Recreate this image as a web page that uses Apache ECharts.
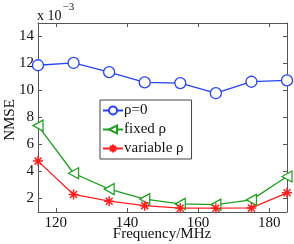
<!DOCTYPE html>
<html><head><meta charset="utf-8">
<script src="https://cdn.jsdelivr.net/npm/echarts@6/dist/echarts.min.js"></script>
<style>html,body{margin:0;padding:0;background:#fff}#c{width:294px;height:244px}</style>
</head><body><div id="c"></div>
<script>
var freqs = [115, 125, 135, 145, 155, 165, 175, 185];
var rhoZero = [11.87, 12.04, 11.36, 10.6, 10.55, 9.8, 10.65, 10.75];
var fixedRho = [7.4, 3.87, 2.7, 1.96, 1.6, 1.55, 1.9, 3.63];
var variableRho = [4.77, 2.3, 1.8, 1.47, 1.28, 1.28, 1.3, 2.42];
var seriesNames = ['\u03c1=0', 'fixed \u03c1', 'variable \u03c1'];
var xTicks = [120, 140, 160, 180];
var yTicks = [2, 4, 6, 8, 10, 12, 14];
var xTitle = 'Frequency/MHz';
var yTitle = 'NMSE';

var font = 'Liberation Serif';
var axisCol = '#555';
function pairs(v){ return freqs.map(function(f,i){ return [f, v[i]]; }); }
var star = 'path://M0,5L10,5M5,0L5,10M1.5,1.5L8.5,8.5M8.5,1.5L1.5,8.5';
var chart = echarts.init(document.getElementById('c'), null, {renderer:'canvas'});
var xBase = {type:'value', min:115, max:185, interval:20,
  axisLine:{show:true, onZero:false, lineStyle:{color:axisCol}},
  axisTick:{show:true, inside:true, length:4, lineStyle:{color:axisCol}, customValues: xTicks},
  splitLine:{show:false}};
var yBase = {type:'value', min:1, max:15,
  axisLine:{show:true, onZero:false, lineStyle:{color:axisCol}},
  axisTick:{show:true, inside:true, length:4, lineStyle:{color:axisCol}, customValues: yTicks},
  splitLine:{show:false}};
chart.setOption({
  animation:false,
  grid:{left:38, right:7, top:23, bottom:32, containLabel:false, outerBoundsMode:'none'},
  xAxis:[
    Object.assign({}, xBase, {position:'bottom',
      axisLabel:{fontFamily:font, fontSize:15, color:'#111', margin:4, customValues: xTicks}}),
    Object.assign({}, xBase, {position:'top', axisLabel:{show:false}})
  ],
  yAxis:[
    Object.assign({}, yBase, {position:'left',
      axisLabel:{fontFamily:font, fontSize:15, color:'#111', margin:4, customValues: yTicks}}),
    Object.assign({}, yBase, {position:'right', axisLabel:{show:false}})
  ],
  legend:{
    orient:'vertical', left:100, top:100, width:88,
    padding:[3,8,3,2], itemGap:4, itemWidth:20, itemHeight:10,
    backgroundColor:'#fff', borderColor:'#444', borderWidth:1,
    textStyle:{fontFamily:font, fontSize:15, color:'#111', padding:[0,0,0,-4]},
    data: seriesNames
  },
  graphic:[{
    type:'text', left:37, top:2,
    style:{
      text:'{a|x 10}{b|\u22123}',
      rich:{
        a:{fontFamily:font, fontSize:14, fill:'#111', padding:[7,0,0,0]},
        b:{fontFamily:font, fontSize:11, fill:'#111', verticalAlign:'top', padding:[0,0,0,1]}
      }
    }
  },{
    type:'text', x:162, y:234,
    style:{text:xTitle, fontFamily:font, fontSize:15, fill:'#111', align:'center', verticalAlign:'middle'}
  },{
    type:'text', x:10, y:120, rotation:Math.PI/2,
    style:{text:yTitle, fontFamily:font, fontSize:15, fill:'#111', align:'center', verticalAlign:'middle'}
  }],
  series:[
    {name:seriesNames[0], type:'line', data:pairs(rhoZero), symbol:'circle', symbolSize:11,
     lineStyle:{color:'#2743f5', width:1.3},
     itemStyle:{color:'#fff', borderColor:'#2743f5', borderWidth:1.3}, color:'#2743f5'},
    {name:seriesNames[1], type:'line', data:pairs(fixedRho), symbol:'triangle', symbolRotate:90, symbolSize:[11,10],
     lineStyle:{color:'#1fa01f', width:1.3},
     itemStyle:{color:'#fff', borderColor:'#1fa01f', borderWidth:1.3}, color:'#1fa01f'},
    {name:seriesNames[2], type:'line', data:pairs(variableRho), symbol:star, symbolSize:10,
     lineStyle:{color:'#ff1f1f', width:1.3},
     itemStyle:{color:'#ff1f1f', borderColor:'#ff1f1f', borderWidth:1.5}, color:'#ff1f1f'}
  ]
});
</script></body></html>
